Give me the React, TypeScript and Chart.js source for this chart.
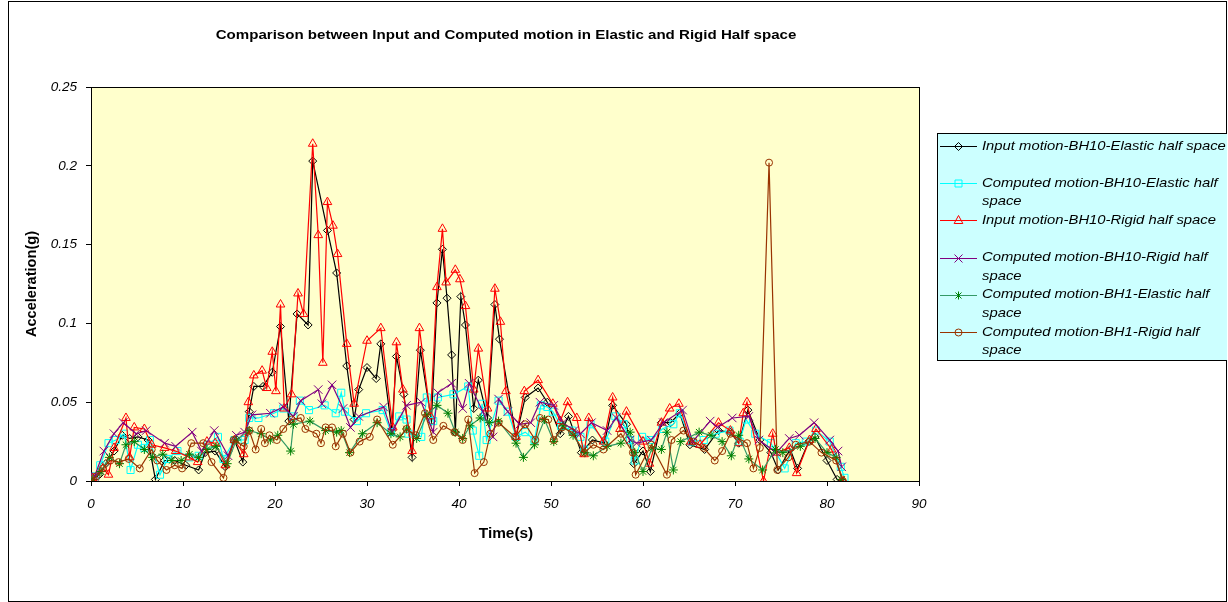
import React, { useEffect, useRef } from "react";
import { Chart, registerables } from "chart.js";

Chart.register(...registerables);

// ---------- DATA ----------
const X_TICKS = [0, 10, 20, 30, 40, 50, 60, 70, 80, 90];
const Y_TICKS = [0, 0.05, 0.1, 0.15, 0.2, 0.25];

const LABELS = [
  "Input motion-BH10-Elastic half space",
  "Computed motion-BH10-Elastic half space",
  "Input motion-BH10-Rigid half space",
  "Computed motion-BH10-Rigid half space",
  "Computed motion-BH1-Elastic half space",
  "Computed motion-BH1-Rigid half space",
];
const LEGEND_LINES = [
  ["Input motion-BH10-Elastic half space"],
  ["Computed motion-BH10-Elastic half", "space"],
  ["Input motion-BH10-Rigid half space"],
  ["Computed motion-BH10-Rigid half", "space"],
  ["Computed motion-BH1-Elastic half", "space"],
  ["Computed motion-BH1-Rigid half", "space"],
];

const IN_BH10_EL_T = [0, 0.9, 1.6, 2.5, 3.4, 4.2, 5.1, 6.2, 7.0, 8.0, 9.1, 10.3, 11.7, 12.4, 13.5, 14.6, 15.6, 16.5, 17.2, 17.7, 18.7, 19.7, 20.6, 21.5, 22.4, 23.6, 24.1, 25.7, 26.7, 27.8, 28.6, 29.1, 30.0, 31.0, 31.5, 32.7, 33.2, 34.0, 34.9, 35.8, 37.0, 37.6, 38.2, 38.7, 39.2, 39.6, 40.2, 40.7, 41.6, 42.1, 43.1, 43.9, 44.4, 46.2, 47.2, 48.6, 49.6, 51.0, 51.9, 53.3, 54.5, 55.8, 56.7, 58.2, 59.0, 60.0, 60.8, 62.0, 63.0, 64.0, 65.1, 66.7, 68.2, 69.5, 70.4, 71.4, 72.7, 73.9, 74.7, 76.0, 76.8, 78.0, 78.7, 80.0, 81.1, 81.6];
const IN_BH10_EL_V = [0, 0.004, 0.011, 0.019, 0.029, 0.027, 0.028, 0.026, 0.001, 0.013, 0.013, 0.010, 0.007, 0.018, 0.019, 0.009, 0.026, 0.012, 0.044, 0.060, 0.060, 0.069, 0.098, 0.038, 0.106, 0.099, 0.203, 0.159, 0.132, 0.073, 0.039, 0.058, 0.072, 0.065, 0.087, 0.032, 0.079, 0.055, 0.015, 0.083, 0.038, 0.113, 0.147, 0.116, 0.080, 0.031, 0.117, 0.099, 0.046, 0.064, 0.040, 0.112, 0.090, 0.028, 0.053, 0.059, 0.050, 0.030, 0.041, 0.018, 0.026, 0.024, 0.048, 0.036, 0.011, 0.019, 0.006, 0.037, 0.037, 0.043, 0.023, 0.020, 0.032, 0.031, 0.024, 0.045, 0.026, 0.018, 0.007, 0.020, 0.008, 0.025, 0.028, 0.013, 0.001, 0];

const CO_BH10_EL_T = [0, 0.5, 1.0, 1.9, 2.7, 3.6, 4.3, 5.1, 5.8, 6.4, 7.5, 8.3, 9.4, 10.7, 11.7, 12.7, 13.8, 14.4, 15.6, 16.7, 17.2, 18.2, 19.9, 20.9, 22.0, 22.7, 23.7, 25.4, 26.6, 27.2, 27.6, 28.9, 29.9, 31.7, 32.6, 33.5, 34.3, 34.5, 35.9, 36.5, 37.2, 37.7, 39.4, 41.0, 41.5, 42.2, 42.5, 43.0, 44.3, 45.3, 46.2, 47.2, 48.2, 48.9, 49.6, 50.2, 51.1, 52.3, 53.2, 53.6, 54.3, 55.9, 57.0, 57.9, 58.6, 59.1, 59.9, 60.8, 62.1, 63.3, 64.0, 65.3, 66.6, 67.9, 69.4, 70.5, 71.2, 72.2, 73.9, 75.4, 76.6, 77.7, 78.8, 80.3, 81.5, 81.9];
const CO_BH10_EL_V = [0, 0.003, 0.010, 0.024, 0.026, 0.030, 0.007, 0.023, 0.021, 0.026, 0.004, 0.014, 0.019, 0.015, 0.016, 0.023, 0.028, 0.014, 0.026, 0.026, 0.040, 0.040, 0.043, 0.046, 0.041, 0.051, 0.045, 0.048, 0.043, 0.056, 0.044, 0.038, 0.043, 0.045, 0.031, 0.041, 0.039, 0.030, 0.028, 0.053, 0.038, 0.053, 0.055, 0.060, 0.032, 0.016, 0.049, 0.026, 0.051, 0.044, 0.028, 0.031, 0.026, 0.048, 0.047, 0.044, 0.035, 0.032, 0.028, 0.020, 0.036, 0.025, 0.041, 0.036, 0.026, 0.013, 0.028, 0.026, 0.033, 0.036, 0.043, 0.025, 0.026, 0.030, 0.032, 0.025, 0.039, 0.030, 0.024, 0.008, 0.024, 0.025, 0.032, 0.025, 0.009, 0.002];

const IN_BH10_RI_T = [0.2, 1.3, 1.9, 2.5, 3.8, 4.2, 4.7, 5.8, 6.6, 8.0, 9.2, 10.7, 11.6, 12.6, 13.5, 14.6, 15.6, 16.6, 17.1, 17.7, 18.6, 19.1, 19.7, 20.1, 20.6, 21.0, 21.8, 22.5, 23.1, 24.1, 24.7, 25.2, 25.7, 26.3, 26.8, 27.8, 28.6, 30.0, 31.5, 32.8, 33.2, 33.9, 34.9, 35.7, 36.9, 37.6, 38.2, 38.6, 39.6, 40.1, 40.7, 41.6, 42.1, 43.1, 43.9, 44.5, 45.1, 46.2, 47.1, 48.6, 50.2, 51.0, 51.8, 52.8, 53.6, 54.1, 55.7, 56.7, 57.5, 58.2, 60.0, 60.7, 62.0, 62.9, 63.9, 65.2, 66.2, 68.2, 69.5, 70.4, 70.9, 71.3, 73.1, 74.1, 74.5, 75.9, 76.7, 78.1, 78.8, 80.5, 81.8];
const IN_BH10_RI_V = [0.002, 0.008, 0.004, 0.021, 0.040, 0.015, 0.034, 0.033, 0.023, 0.021, 0.019, 0.015, 0.012, 0.025, 0.024, 0.010, 0.026, 0.017, 0.050, 0.067, 0.070, 0.059, 0.082, 0.057, 0.112, 0.046, 0.055, 0.119, 0.106, 0.214, 0.156, 0.075, 0.177, 0.162, 0.144, 0.087, 0.049, 0.089, 0.097, 0.034, 0.088, 0.058, 0.019, 0.097, 0.041, 0.123, 0.160, 0.126, 0.134, 0.128, 0.111, 0.058, 0.084, 0.046, 0.122, 0.101, 0.057, 0.028, 0.057, 0.064, 0.049, 0.038, 0.050, 0.040, 0.017, 0.040, 0.025, 0.053, 0.033, 0.044, 0.025, 0.011, 0.037, 0.046, 0.049, 0.025, 0.023, 0.037, 0.032, 0.024, 0.043, 0.050, 0.000, 0.030, 0.018, 0.021, 0.005, 0.026, 0.033, 0.020, 0];

const CO_BH10_RI_T = [0, 0.4, 1.4, 2.5, 3.5, 4.9, 6.0, 8.0, 9.2, 11.0, 12.0, 13.4, 14.9, 15.8, 16.7, 17.5, 19.5, 20.9, 22.0, 22.8, 24.7, 25.1, 26.2, 27.4, 28.2, 29.1, 31.8, 32.7, 34.3, 35.9, 37.2, 37.7, 39.2, 40.4, 41.1, 42.6, 43.7, 44.3, 45.3, 46.6, 47.8, 48.8, 50.3, 51.3, 52.5, 53.2, 54.4, 56.1, 57.1, 58.6, 59.3, 60.9, 62.2, 64.3, 65.4, 67.3, 68.1, 69.7, 71.5, 72.6, 74.5, 75.9, 77.0, 78.6, 80.3, 81.2, 81.6];
const CO_BH10_RI_V = [0, 0.003, 0.019, 0.030, 0.037, 0.030, 0.032, 0.024, 0.022, 0.031, 0.019, 0.032, 0.016, 0.029, 0.031, 0.042, 0.043, 0.047, 0.041, 0.051, 0.058, 0.049, 0.061, 0.046, 0.034, 0.041, 0.047, 0.031, 0.048, 0.050, 0.031, 0.056, 0.062, 0.046, 0.062, 0.044, 0.028, 0.052, 0.044, 0.036, 0.037, 0.050, 0.048, 0.037, 0.032, 0.030, 0.037, 0.032, 0.040, 0.026, 0.024, 0.026, 0.037, 0.045, 0.025, 0.038, 0.034, 0.040, 0.041, 0.026, 0.018, 0.027, 0.029, 0.037, 0.026, 0.019, 0.009];

const CO_BH1_EL_T = [0.2, 1.1, 2.0, 3.1, 3.8, 4.7, 5.8, 6.7, 7.8, 8.8, 9.8, 10.7, 11.7, 12.6, 13.6, 14.8, 15.8, 17.2, 18.5, 19.5, 20.3, 21.7, 22.0, 23.8, 25.5, 26.7, 27.2, 28.1, 29.5, 31.1, 32.6, 33.6, 34.3, 35.4, 36.5, 37.6, 38.8, 39.6, 40.4, 41.2, 42.3, 43.3, 44.3, 46.2, 47.0, 48.2, 49.3, 50.3, 51.3, 52.4, 53.7, 54.6, 56.1, 57.6, 58.6, 59.1, 60.0, 61.0, 62.0, 62.6, 63.3, 64.1, 66.1, 67.4, 68.6, 69.6, 70.4, 71.5, 73.0, 74.4, 75.2, 77.1, 78.7, 80.0, 81.0, 81.6];
const CO_BH1_EL_V = [0.001, 0.006, 0.015, 0.011, 0.023, 0.025, 0.020, 0.015, 0.017, 0.013, 0.013, 0.017, 0.015, 0.020, 0.022, 0.011, 0.026, 0.032, 0.030, 0.026, 0.029, 0.019, 0.036, 0.038, 0.032, 0.031, 0.032, 0.018, 0.030, 0.037, 0.030, 0.028, 0.033, 0.027, 0.042, 0.048, 0.043, 0.031, 0.027, 0.035, 0.040, 0.037, 0.038, 0.024, 0.015, 0.023, 0.039, 0.025, 0.035, 0.029, 0.018, 0.016, 0.022, 0.024, 0.031, 0.018, 0.006, 0.021, 0.020, 0.031, 0.007, 0.025, 0.031, 0.029, 0.025, 0.016, 0.029, 0.014, 0.007, 0.020, 0.018, 0.022, 0.027, 0.018, 0.015, 0.001];

const CO_BH1_RI_T = [0, 0.6, 1.3, 2.1, 3.0, 4.1, 5.3, 6.6, 7.2, 8.2, 9.1, 9.9, 10.9, 12.2, 13.1, 14.4, 15.5, 16.6, 17.2, 17.9, 18.5, 18.9, 19.4, 20.2, 20.9, 21.8, 22.8, 23.3, 24.5, 25.0, 25.5, 26.2, 26.6, 27.4, 28.2, 29.2, 30.3, 31.1, 32.8, 34.3, 35.3, 36.3, 37.2, 38.3, 39.5, 40.4, 41.0, 41.7, 42.7, 43.4, 44.3, 46.1, 47.2, 48.3, 48.8, 49.7, 50.3, 51.2, 52.3, 53.6, 54.6, 55.7, 57.6, 58.9, 59.2, 60.9, 62.6, 63.1, 64.4, 65.5, 66.6, 67.8, 68.6, 69.5, 71.3, 72.0, 72.7, 73.7, 74.6, 75.8, 76.6, 78.1, 79.4, 81.0, 81.7];
const CO_BH1_RI_V = [0, 0.003, 0.008, 0.013, 0.012, 0.014, 0.008, 0.020, 0.013, 0.007, 0.010, 0.008, 0.024, 0.024, 0.012, 0.002, 0.026, 0.022, 0.032, 0.020, 0.033, 0.024, 0.029, 0.026, 0.033, 0.039, 0.040, 0.033, 0.030, 0.024, 0.034, 0.034, 0.022, 0.030, 0.018, 0.025, 0.028, 0.039, 0.023, 0.033, 0.029, 0.043, 0.026, 0.035, 0.031, 0.026, 0.039, 0.005, 0.012, 0.030, 0.037, 0.028, 0.036, 0.026, 0.040, 0.039, 0.026, 0.034, 0.031, 0.018, 0.023, 0.020, 0.030, 0.018, 0.004, 0.023, 0.004, 0.026, 0.032, 0.025, 0.021, 0.013, 0.019, 0.030, 0.024, 0.008, 0.021, 0.202, 0.007, 0.015, 0.023, 0.025, 0.018, 0.013, 0];

// ---------- STYLE ----------
const W = 1219;
const H = 601;
const FONT = '"Liberation Sans", Arial, sans-serif';

type Series = {
  t: number[];
  v: number[];
  line: string;
  mark: string;
  style: string;
  r: number;
};

const SERIES: Series[] = [
  { t: IN_BH10_EL_T, v: IN_BH10_EL_V, line: "#000000", mark: "#000000", style: "diamond", r: 4 },
  { t: CO_BH10_EL_T, v: CO_BH10_EL_V, line: "#00FFFF", mark: "#00FFFF", style: "square", r: 3.5 },
  { t: IN_BH10_RI_T, v: IN_BH10_RI_V, line: "#FF0000", mark: "#FF0000", style: "triangle", r: 5 },
  { t: CO_BH10_RI_T, v: CO_BH10_RI_V, line: "#800080", mark: "#800080", style: "x", r: 4 },
  { t: CO_BH1_EL_T, v: CO_BH1_EL_V, line: "#339966", mark: "#008000", style: "star", r: 4 },
  { t: CO_BH1_RI_T, v: CO_BH1_RI_V, line: "#993300", mark: "#993300", style: "circle", r: 3.5 },
];

const CHART_STYLE: Record<string, any> = {
  diamond: { pointStyle: "rectRot", radius: 4 },
  square: { pointStyle: "rect", radius: 5 },
  triangle: { pointStyle: "triangle", radius: 5 },
  x: { pointStyle: "crossRot", radius: 6 },
  star: { pointStyle: "star", radius: 4.5 },
  circle: { pointStyle: "circle", radius: 3.5 },
};

function drawMarker(ctx: CanvasRenderingContext2D, style: string, x: number, y: number, r: number, color: string) {
  ctx.save();
  ctx.strokeStyle = color;
  ctx.lineWidth = 1;
  ctx.beginPath();
  if (style === "diamond") {
    ctx.moveTo(x, y - r);
    ctx.lineTo(x + r, y);
    ctx.lineTo(x, y + r);
    ctx.lineTo(x - r, y);
    ctx.closePath();
  } else if (style === "square") {
    ctx.rect(x - r, y - r, 2 * r, 2 * r);
  } else if (style === "triangle") {
    ctx.moveTo(x, y - r);
    ctx.lineTo(x + r * 0.87, y + r * 0.6);
    ctx.lineTo(x - r * 0.87, y + r * 0.6);
    ctx.closePath();
  } else if (style === "x") {
    ctx.moveTo(x - r, y - r);
    ctx.lineTo(x + r, y + r);
    ctx.moveTo(x + r, y - r);
    ctx.lineTo(x - r, y + r);
  } else if (style === "star") {
    ctx.moveTo(x - r * 0.75, y - r * 0.75);
    ctx.lineTo(x + r * 0.75, y + r * 0.75);
    ctx.moveTo(x + r * 0.75, y - r * 0.75);
    ctx.lineTo(x - r * 0.75, y + r * 0.75);
    ctx.moveTo(x, y - r);
    ctx.lineTo(x, y + r);
  } else {
    ctx.arc(x, y, r, 0, Math.PI * 2);
  }
  ctx.stroke();
  ctx.restore();
}

// text drawn with a horizontal stretch, as in the reference rendering
function stretchText(ctx: CanvasRenderingContext2D, text: string, x: number, y: number, sx: number) {
  ctx.save();
  ctx.translate(x, y);
  ctx.scale(sx, 1);
  ctx.fillText(text, 0, 0);
  ctx.restore();
}

const decorPlugin = {
  id: "decor",
  beforeDraw(chart: any) {
    const { ctx, chartArea: a } = chart;
    ctx.save();
    ctx.fillStyle = "#FFFFFF";
    ctx.fillRect(0, 0, W, H);
    ctx.strokeStyle = "#000000";
    ctx.lineWidth = 1;
    ctx.strokeRect(0.5, 0.5, W - 1, H - 1);
    ctx.fillStyle = "#FFFFCC";
    ctx.fillRect(a.left, a.top, a.right - a.left, a.bottom - a.top);
    ctx.restore();
  },
  beforeDatasetsDraw(chart: any) {
    const { ctx, chartArea: a } = chart;
    ctx.save();
    ctx.strokeStyle = "#000000";
    ctx.lineWidth = 1;
    ctx.strokeRect(Math.round(a.left) + 0.5, Math.round(a.top) + 0.5, Math.round(a.right - a.left), Math.round(a.bottom - a.top));
    ctx.restore();
  },
  afterDraw(chart: any) {
    const { ctx, chartArea: a } = chart;
    ctx.save();
    ctx.fillStyle = "#000000";
    ctx.textAlign = "center";
    ctx.textBaseline = "middle";
    // main title
    ctx.font = `bold 13px ${FONT}`;
    stretchText(ctx, "Comparison between Input and Computed motion in Elastic and Rigid Half space", 498, 34, 1.16);
    // x title
    ctx.font = `bold 14px ${FONT}`;
    stretchText(ctx, "Time(s)", (a.left + a.right) / 2 + 1, 533, 1.1);
    // y title
    ctx.save();
    ctx.translate(24, (a.top + a.bottom) / 2);
    ctx.rotate(-Math.PI / 2);
    ctx.font = `bold 14px ${FONT}`;
    stretchText(ctx, "Acceleration(g)", 0, 0, 1.04);
    ctx.restore();

    // legend
    const lx = 929, ly = 132, lw = 290, lh = 227;
    ctx.fillStyle = "#CCFFFF";
    ctx.fillRect(lx, ly, lw, lh);
    ctx.strokeStyle = "#000000";
    ctx.lineWidth = 1;
    ctx.strokeRect(lx + 0.5, ly + 0.5, lw, lh);
    ctx.font = `italic 13px ${FONT}`;
    ctx.textAlign = "left";
    SERIES.forEach((s, i) => {
      const y = 145 + i * 37.2;
      ctx.strokeStyle = s.line;
      ctx.lineWidth = 1.2;
      ctx.beginPath();
      ctx.moveTo(932, Math.round(y) + 0.5);
      ctx.lineTo(969, Math.round(y) + 0.5);
      ctx.stroke();
      drawMarker(ctx, s.style, 950.5, Math.round(y) + 0.5, s.r, s.mark);
      ctx.fillStyle = "#000000";
      LEGEND_LINES[i].forEach((txt, k) => {
        stretchText(ctx, txt, 974, y + k * 18.3, 1.14);
      });
    });
    ctx.restore();
  },
};

export default function App() {
  const ref = useRef<HTMLCanvasElement>(null);
  useEffect(() => {
    const datasets = SERIES.map((s, i) => {
      const st = CHART_STYLE[s.style];
      return {
        label: LABELS[i],
        data: s.t.map((t, k) => ({ x: t, y: s.v[k] })),
        borderColor: s.line,
        borderWidth: 1.2,
        pointStyle: st.pointStyle,
        pointRadius: st.radius,
        pointBorderColor: s.mark,
        pointBackgroundColor: "rgba(0,0,0,0)",
        pointBorderWidth: 1,
        fill: false,
        tension: 0,
        order: SERIES.length - i,
      };
    });
    const tickFont = { family: FONT, size: 13.5, style: "italic" as const };
    const chart = new Chart(ref.current!, {
      type: "line",
      data: { datasets },
      options: {
        responsive: false,
        animation: false,
        devicePixelRatio: 1,
        layout: { padding: { left: 0, top: 86, right: W - 911, bottom: H - 480 - 40 } },
        plugins: { legend: { display: false }, tooltip: { enabled: false }, title: { display: false } },
        scales: {
          x: {
            type: "linear",
            min: 0,
            max: 90,
            afterFit: (s: any) => { s.height = 40; },
            afterBuildTicks: (s: any) => { s.ticks = X_TICKS.map((v) => ({ value: v })); },
            grid: { display: true, drawOnChartArea: false, drawTicks: true, tickLength: 5, color: "#000000" },
            border: { display: false },
            ticks: { font: tickFont, color: "#000000", padding: 10, maxRotation: 0, callback: (v: any) => String(v) },
          },
          y: {
            type: "linear",
            min: 0,
            max: 0.25,
            afterFit: (s: any) => { s.width = 83; },
            afterBuildTicks: (s: any) => { s.ticks = Y_TICKS.map((v) => ({ value: v })); },
            grid: { display: true, drawOnChartArea: false, drawTicks: true, tickLength: 5, color: "#000000" },
            border: { display: false },
            ticks: { font: tickFont, color: "#000000", padding: 9, callback: (v: any) => String(Number(Number(v).toFixed(2))) },
          },
        },
      },
      plugins: [decorPlugin],
    } as any);
    return () => chart.destroy();
  }, []);
  return (
    <div style={{ position: "absolute", left: 8, top: 1, width: W, height: H }}>
      <canvas ref={ref} width={W} height={H} style={{ display: "block", width: W, height: H }} />
    </div>
  );
}
